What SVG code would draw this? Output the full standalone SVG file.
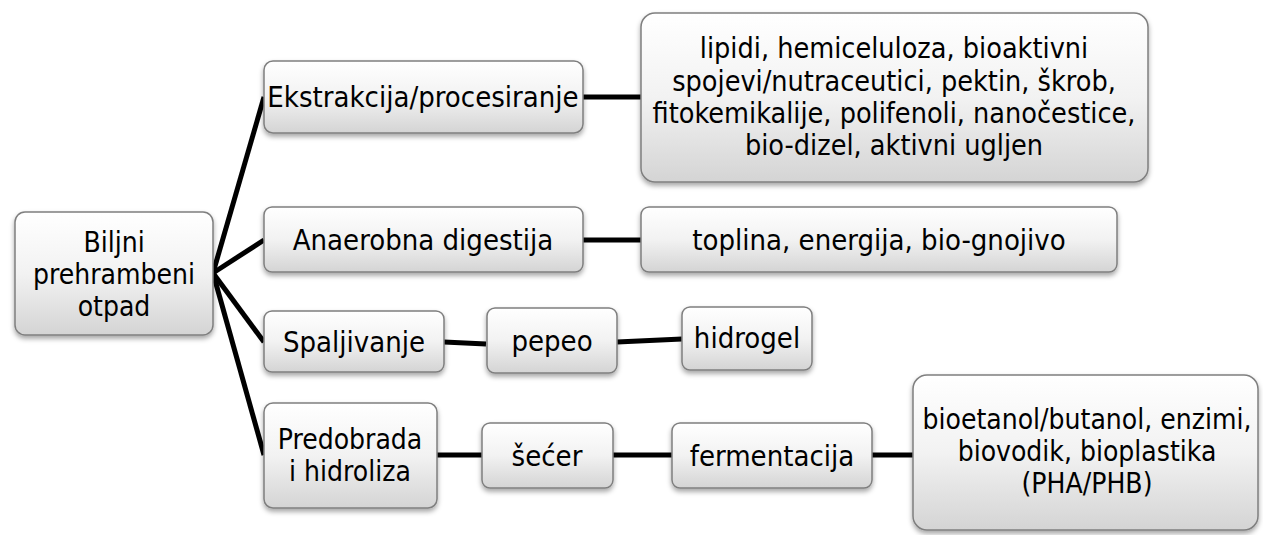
<svg xmlns="http://www.w3.org/2000/svg" width="1263" height="535" viewBox="0 0 1263 535">
<defs>
<linearGradient id="g" x1="0" y1="0" x2="0" y2="1">
<stop offset="0" stop-color="#ffffff"/>
<stop offset="0.5" stop-color="#f2f2f2"/>
<stop offset="1" stop-color="#d4d4d4"/>
</linearGradient>
<filter id="sh" x="-10%" y="-10%" width="120%" height="130%">
<feDropShadow dx="0" dy="3" stdDeviation="2.5" flood-color="#000" flood-opacity="0.35"/>
</filter>
</defs>
<style>
.n rect{fill:url(#g);stroke:#7f7f7f;stroke-width:1.5;filter:url(#sh)}
.n text{font-family:"DejaVu Sans Condensed","DejaVu Sans",sans-serif;font-size:29px;fill:#000;text-anchor:middle}
#n-lipidi text{font-size:28.5px}
#n-biljni text,#n-predobrada text,#n-bioetanol text{font-size:28px}
#connectors line{stroke:#000;stroke-width:5;stroke-linecap:butt}
</style>
<rect width="1263" height="535" fill="#fff"/>
<g id="connectors">
<line x1="213" y1="273" x2="264" y2="97"/>
<line x1="213" y1="273" x2="264" y2="240"/>
<line x1="213" y1="273" x2="264" y2="342"/>
<line x1="213" y1="273" x2="264" y2="455"/>
<line x1="583" y1="97" x2="641" y2="97"/>
<line x1="583" y1="240" x2="641" y2="240"/>
<line x1="444" y1="342" x2="486" y2="344"/>
<line x1="617" y1="342" x2="682" y2="339"/>
<line x1="437" y1="455" x2="482" y2="455"/>
<line x1="613" y1="455" x2="672" y2="455"/>
<line x1="872" y1="455" x2="913" y2="455"/>
</g>
<g id="n-biljni" class="n"><rect x="15" y="212" width="198" height="123" rx="10"/>
<text x="114" y="252">Biljni</text><text x="114" y="284">prehrambeni</text><text x="114" y="316">otpad</text></g>
<g id="n-ekstrakcija" class="n"><rect x="264" y="61" width="319" height="72" rx="9"/>
<text x="423" y="107">Ekstrakcija/procesiranje</text></g>
<g id="n-lipidi" class="n"><rect x="641" y="13" width="507" height="169" rx="14"/>
<text x="894" y="58">lipidi, hemiceluloza, bioaktivni</text>
<text x="894" y="91">spojevi/nutraceutici, pektin, škrob,</text>
<text x="894" y="123">fitokemikalije, polifenoli, nanočestice,</text>
<text x="894" y="155">bio-dizel, aktivni ugljen</text></g>
<g id="n-anaerobna" class="n"><rect x="264" y="207" width="319" height="65" rx="8"/>
<text x="423" y="250">Anaerobna digestija</text></g>
<g id="n-toplina" class="n"><rect x="641" y="207" width="476" height="65" rx="8"/>
<text x="879" y="250">toplina, energija, bio-gnojivo</text></g>
<g id="n-spaljivanje" class="n"><rect x="264" y="311" width="180" height="61" rx="8"/>
<text x="354" y="352">Spaljivanje</text></g>
<g id="n-pepeo" class="n"><rect x="487" y="308" width="130" height="65" rx="8"/>
<text x="552" y="351">pepeo</text></g>
<g id="n-hidrogel" class="n"><rect x="682" y="307" width="130" height="63" rx="8"/>
<text x="747" y="348">hidrogel</text></g>
<g id="n-predobrada" class="n"><rect x="264" y="403" width="173" height="105" rx="9"/>
<text x="350" y="449">Predobrada</text><text x="350" y="481">i hidroliza</text></g>
<g id="n-secer" class="n"><rect x="482" y="423" width="131" height="65" rx="8"/>
<text x="547" y="466">šećer</text></g>
<g id="n-fermentacija" class="n"><rect x="672" y="423" width="200" height="65" rx="8"/>
<text x="772" y="466">fermentacija</text></g>
<g id="n-bioetanol" class="n"><rect x="913" y="375" width="345" height="155" rx="14"/>
<text x="1087" y="429">bioetanol/butanol, enzimi,</text>
<text x="1087" y="461">biovodik, bioplastika</text>
<text x="1087" y="493">(PHA/PHB)</text></g>
</svg>
